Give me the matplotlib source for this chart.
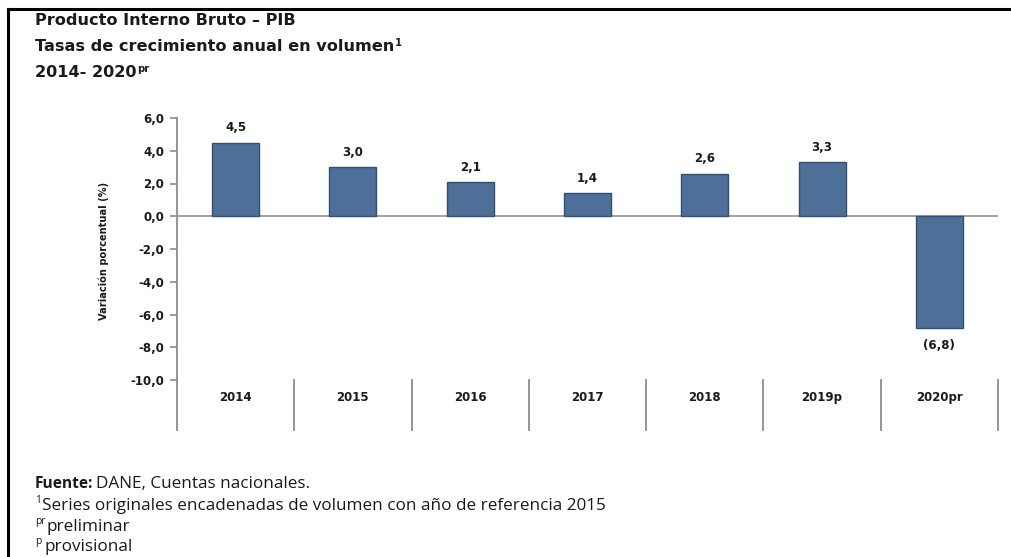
import matplotlib
matplotlib.use("Agg")
import matplotlib.pyplot as plt
from matplotlib.lines import Line2D

categories = ["2014", "2015", "2016", "2017", "2018", "2019p", "2020pr"]
values = [4.5, 3.0, 2.1, 1.4, 2.6, 3.3, -6.8]
yticks = [6, 4, 2, 0, -2, -4, -6, -8, -10]

W, H = 1011, 557
fig = plt.figure(figsize=(W / 100, H / 100), dpi=100)
fig.patch.set_facecolor('white')

def fx(px):
    return px / W

def fy(py):
    return 1 - py / H

# frame lines (left and top)
fig.add_artist(Line2D([fx(8), fx(8)], [fy(9), 0], transform=fig.transFigure, color='black', lw=2.2))
fig.add_artist(Line2D([fx(8), 1], [fy(9), fy(9)], transform=fig.transFigure, color='black', lw=2.2))

ax = fig.add_axes([fx(177), fy(380), fx(998) - fx(177), fy(118) - fy(380)])
ax.set_xlim(-0.5, len(categories) - 0.5)
ax.set_ylim(-10, 6)

xs = list(range(len(categories)))
ax.bar(xs, values, width=0.4, color='#4E6F98', edgecolor='#34506f', linewidth=1.0, zorder=3)
ax.axhline(0, color='#9a9a9a', lw=1.3, zorder=2)

for x, v in zip(xs, values):
    if v >= 0:
        lab = f"{v:.1f}".replace('.', ',')
        ax.annotate(lab, (x, v), xytext=(0, 6), textcoords='offset points', ha='center', va='bottom',
                    fontsize=8.5, fontweight='bold', color='#1a1a1a', family='DejaVu Sans')
    else:
        lab = "(" + f"{abs(v):.1f}".replace('.', ',') + ")"
        ax.annotate(lab, (x, v), xytext=(0, -8), textcoords='offset points', ha='center', va='top',
                    fontsize=8.5, fontweight='bold', color='#1a1a1a', family='DejaVu Sans')

for s in ['top', 'right', 'bottom']:
    ax.spines[s].set_visible(False)
ax.spines['left'].set_color('#8c8c8c')
ax.spines['left'].set_linewidth(1.3)

ax.set_yticks(yticks)
ax.set_yticklabels([f"{t:.1f}".replace('.', ',') for t in yticks], fontsize=8.5, fontweight='bold',
                   color='#1a1a1a', family='DejaVu Sans')
ax.tick_params(axis='y', length=5, width=1.2, color='#8c8c8c', pad=4)
ax.set_xticks([])

# separator lines and category labels below the plot
y_low = -10 - 50 / 16.375
for b in range(len(categories) + 1):
    ax.plot([b - 0.5, b - 0.5], [-10, y_low], color='#8c8c8c', lw=1.3, clip_on=False)
for x, c in zip(xs, categories):
    ax.text(x, -11.05, c, ha='center', va='center', fontsize=8.5, fontweight='bold',
            color='#1a1a1a', family='DejaVu Sans', clip_on=False)

fig.text(fx(104), fy(251), "Variación porcentual (%)", rotation=90, ha='center', va='center',
         fontsize=7.1, fontweight='bold', family='DejaVu Sans', color='#1a1a1a')


def line_with_sup(px, py, parts, size, fam):
    """parts: list of (text, weight, is_sup)"""
    prev = None
    for txt, wt, sup in parts:
        fs = size * 0.62 if sup else size
        if prev is None:
            prev = ax.annotate(txt, xy=(fx(px), fy(py)), xycoords='figure fraction', ha='left',
                               va='baseline', fontsize=fs, fontweight=wt, family=fam, color='#1a1a1a',
                               annotation_clip=False)
        else:
            dy = size * 0.40 if sup else 0
            prev = ax.annotate(txt, xy=(1, 0), xycoords=prev, xytext=(0.5 if sup else 0, dy),
                               textcoords='offset points', ha='left', va='bottom',
                               fontsize=fs, fontweight=wt, family=fam, color='#1a1a1a',
                               annotation_clip=False)
    return prev


# titles (baselines)
TS = 11.6
line_with_sup(35, 25, [("Producto Interno Bruto – PIB", 'bold', False)], TS, 'DejaVu Sans')
line_with_sup(35, 51, [("Tasas de crecimiento anual en volumen", 'bold', False), ("1", 'bold', True)], TS, 'DejaVu Sans')
line_with_sup(35, 77, [("2014- 2020", 'bold', False), ("pr", 'bold', True)], TS, 'DejaVu Sans')

# footnotes
NS = 12.3
FAM = 'Open Sans'
ax.annotate("Fuente:", xy=(fx(35), fy(488)), xycoords='figure fraction', ha='left', va='baseline',
            fontsize=11.2, fontweight='bold', family=FAM, color='#1a1a1a', annotation_clip=False)
ax.annotate("DANE, Cuentas nacionales.", xy=(fx(96), fy(488)), xycoords='figure fraction', ha='left',
            va='baseline', fontsize=NS, family=FAM, color='#1a1a1a', annotation_clip=False)
ax.annotate("1", xy=(fx(35), fy(510) + 0.012), xycoords='figure fraction', ha='left', va='baseline',
            fontsize=NS * 0.6, family=FAM, color='#1a1a1a', annotation_clip=False)
ax.annotate("Series originales encadenadas de volumen con año de referencia 2015", xy=(fx(42), fy(510)),
            xycoords='figure fraction', ha='left', va='baseline', fontsize=NS, family=FAM,
            color='#1a1a1a', annotation_clip=False)
ax.annotate("pr", xy=(fx(35), fy(531) + 0.012), xycoords='figure fraction', ha='left', va='baseline',
            fontsize=NS * 0.6, family=FAM, color='#1a1a1a', annotation_clip=False)
ax.annotate("preliminar", xy=(fx(46), fy(531)), xycoords='figure fraction', ha='left', va='baseline',
            fontsize=NS, family=FAM, color='#1a1a1a', annotation_clip=False)
ax.annotate("p", xy=(fx(35), fy(551) + 0.012), xycoords='figure fraction', ha='left', va='baseline',
            fontsize=NS * 0.6, family=FAM, color='#1a1a1a', annotation_clip=False)
ax.annotate("provisional", xy=(fx(45), fy(551)), xycoords='figure fraction', ha='left', va='baseline',
            fontsize=NS, family=FAM, color='#1a1a1a', annotation_clip=False)

fig.savefig("out.png", dpi=100, facecolor='white')
